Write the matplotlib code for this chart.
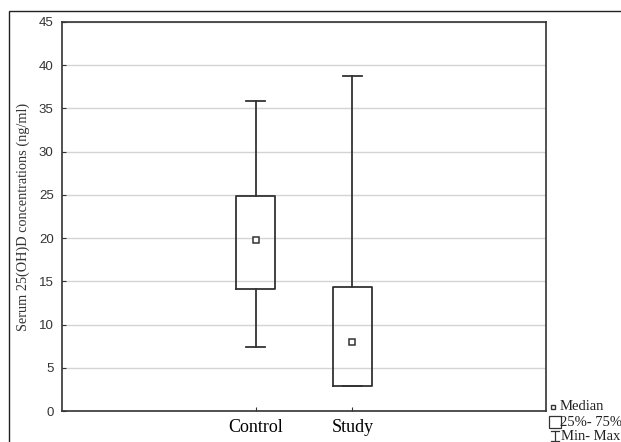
#import relevant libaries
import matplotlib
matplotlib.use('Agg')
import matplotlib.pyplot as plt
from matplotlib.lines import Line2D
from matplotlib.patches import Rectangle

#data
groups = ['Control', 'Study']
mins = [7.4, 2.9]
q1s = [14.1, 2.9]
medians = [19.8, 8.0]
q3s = [24.9, 14.4]
maxs = [35.9, 38.8]

edge = '#333333'

fig = plt.figure(figsize=(6.21, 4.42), dpi=100)
fig.patch.set_facecolor('white')

#outer frame of the original graphic
fig.patches.append(Rectangle((9 / 621, -0.1), 1.2, (442 - 11) / 442 + 0.1,
                             transform=fig.transFigure, fill=False,
                             edgecolor='#222222', linewidth=1.0))

ax = fig.add_axes([62 / 621, (442 - 411) / 442, (546 - 62) / 621, (411 - 22) / 442])

#build box stats
stats = []
for i in range(len(groups)):
    stats.append({'label': groups[i], 'whislo': mins[i], 'q1': q1s[i],
                  'med': medians[i], 'q3': q3s[i], 'whishi': maxs[i]})

pos = list(range(1, len(groups) + 1))
ax.bxp(stats, positions=pos, widths=0.4, showfliers=False,
       boxprops=dict(color=edge, linewidth=1.3),
       whiskerprops=dict(color=edge, linewidth=1.3),
       capprops=dict(color=edge, linewidth=1.3),
       medianprops=dict(linewidth=0), capwidths=0.2, zorder=3)
ax.plot(pos, medians, 's', markersize=4, markerfacecolor='white',
        markeredgecolor=edge, markeredgewidth=1.1, linestyle='none', zorder=4)

ax.set_xlim(-1, 4)
ax.set_ylim(0, 45)
ax.set_yticks(range(0, 46, 5))
ax.yaxis.grid(True, color='#d4d4d4', linewidth=1.0)
ax.set_axisbelow(True)
ax.set_xticks(pos)
ax.set_xticklabels(groups, fontfamily='Liberation Serif', fontsize=13)
ax.tick_params(axis='x', direction='in', length=3, pad=6, color=edge)
ax.tick_params(axis='y', direction='in', length=3, labelsize=9.5, color=edge, pad=6)
for lab in ax.get_yticklabels():
    lab.set_fontfamily('Liberation Sans')
    lab.set_color('#333333')
for s in ax.spines.values():
    s.set_color(edge)
    s.set_linewidth(1.2)
ax.set_ylabel('Serum 25(OH)D concentrations (ng/ml)', fontfamily='Liberation Serif',
              fontsize=10.3, color='#333333', labelpad=6)

#legend in the bottom right corner
def fx(px):
    return px / 621

def fy(py):
    return 1 - py / 442

fig.add_artist(Line2D([fx(553)], [fy(407)], marker='s', markersize=3.5,
                      markerfacecolor='white', markeredgecolor=edge,
                      transform=fig.transFigure))
fig.text(fx(560), fy(407), 'Median', fontfamily='Liberation Serif', fontsize=10.5,
         va='center', color='#222222')
fig.add_artist(Line2D([fx(555)], [fy(422)], marker='s', markersize=8,
                      markerfacecolor='white', markeredgecolor=edge, markeredgewidth=0.9,
                      transform=fig.transFigure))
fig.text(fx(560), fy(422), '25%- 75%', fontfamily='Liberation Serif', fontsize=10.5,
         va='center', color='#222222')
fig.add_artist(Line2D([fx(555), fx(555)], [fy(431), fy(441)], color=edge, linewidth=0.9,
                      transform=fig.transFigure))
fig.add_artist(Line2D([fx(551), fx(559)], [fy(431), fy(431)], color=edge, linewidth=0.9,
                      transform=fig.transFigure))
fig.add_artist(Line2D([fx(551), fx(559)], [fy(441), fy(441)], color=edge, linewidth=0.9,
                      transform=fig.transFigure))
fig.text(fx(561), fy(436), 'Min- Max', fontfamily='Liberation Serif', fontsize=10.5,
         va='center', color='#222222')

fig.savefig('out.png', dpi=100, facecolor='white')
